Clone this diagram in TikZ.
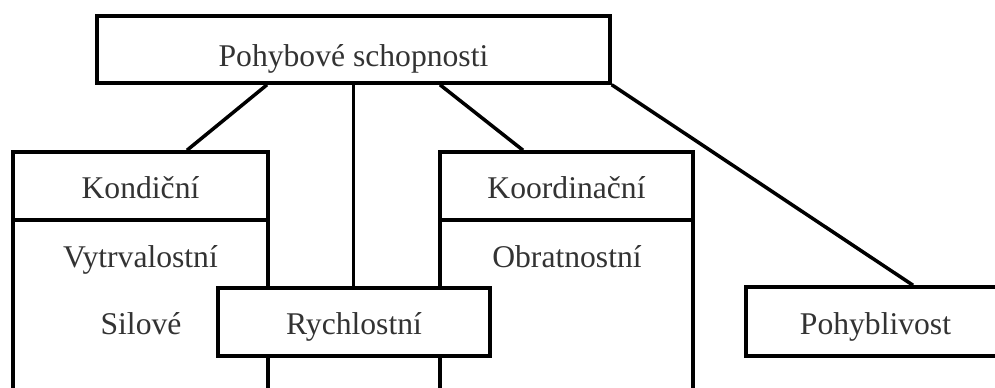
\documentclass[tikz,border=0pt]{standalone}
\usepackage{fontspec}
\setmainfont{Liberation Serif}
\usetikzlibrary{positioning,calc}
\colorlet{TextGrey}{black!80}

\begin{document}
\begin{tikzpicture}[
      x=0.02cm,y=0.02cm,
      boxstyle/.style={draw=black,line width=2pt,fill=white,inner sep=0pt,text height=0.5cm,text depth=0cm,font=\fontsize{18}{21}\selectfont,text=TextGrey},
      headbox/.style={boxstyle,minimum width=5.1cm,minimum height=1.36cm},
      bodybox/.style={draw=black,line width=2pt,minimum width=5.1cm,minimum height=4cm},
      lbl/.style={inner sep=0pt,text height=0.5cm,text depth=0cm,font=\fontsize{18}{21}\selectfont,text=TextGrey},
      link/.style={line width=2pt,black}
    ]
    \clip (0,0) rectangle (995,387);
    \fill[white] (0,0) rectangle (995,387);
    \node[boxstyle,text height=0.7cm,minimum width=10.26cm,minimum height=1.34cm] (top) at (353.5,337.5) {Pohybové schopnosti};
    \node[bodybox] (konB) at (140.5,67) {};
    \node[headbox] (kon) at (140.5,201) {Kondiční};
    \node[bodybox,minimum width=5.06cm] (kooB) at (566.5,67) {};
    \node[headbox,minimum width=5.06cm] (koo) at (566.5,201) {Koordinační};
    \node[lbl] (vyt) at (140.5,132) {Vytrvalostní};
    \node[lbl] (sil) at (141,65) {Silové};
    \node[lbl] (obr) at (567,132) {Obratnostní};
    \node[headbox,minimum width=5.44cm] (ryc) at (354,65) {Rychlostní};
    \node[headbox,minimum width=5.18cm,minimum height=1.38cm] (poh) at (875.5,65.5) {Pohyblivost};
    \draw[link] ([xshift=-1.73cm]top.south) -- ([xshift=0.93cm]kon.north);
    \draw[link] (top.south) -- (top.south |- ryc.north);
    \draw[link] ([xshift=1.73cm]top.south) -- ([xshift=-0.87cm]koo.north);
    \draw[link] (top.south east) -- ([xshift=0.75cm]poh.north);
  \end{tikzpicture}
\end{document}
